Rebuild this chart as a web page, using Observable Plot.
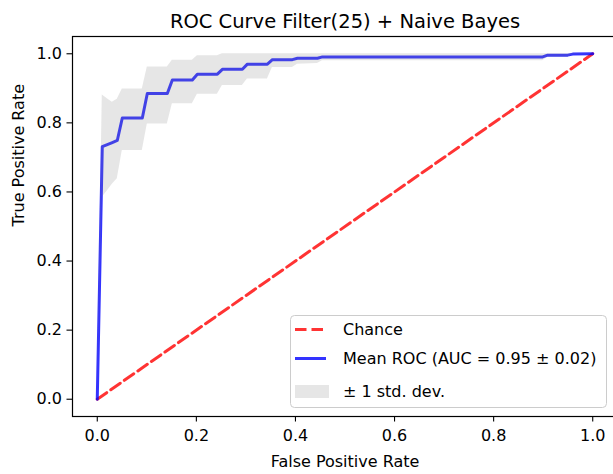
<!DOCTYPE html>
<html>
<head>
<meta charset="utf-8">
<script src="https://cdn.jsdelivr.net/npm/d3@7"></script>
<script src="https://cdn.jsdelivr.net/npm/@observablehq/plot@0.6"></script>
<style>
  html, body { margin: 0; padding: 0; background: #fff; overflow: hidden; }
  #chart { position: relative; width: 613px; height: 474px; overflow: hidden; }
  #chart svg { overflow: hidden; }
</style>
</head>
<body>
<div id="chart"></div>
<script>
// ---- data ----
const titleText = "ROC Curve Filter(25) + Naive Bayes";
const xLabel = "False Positive Rate";
const yLabel = "True Positive Rate";
const xTicks = [0, 0.2, 0.4, 0.6, 0.8, 1.0];
const yTicks = [0, 0.2, 0.4, 0.6, 0.8, 1.0];

const fpr      = [0, 0.0101, 0.0202, 0.0303, 0.0404, 0.0505, 0.0909, 0.1010, 0.1414, 0.1515, 0.1919, 0.2020, 0.2424, 0.2525, 0.2929, 0.3030, 0.3434, 0.3535, 0.3939, 0.4040, 0.4444, 0.4545, 0.8990, 0.9091, 0.9495, 0.9596, 1.0];
const tprMean  = [0, 0.731, 0.737, 0.743, 0.749, 0.814, 0.814, 0.885, 0.885, 0.924, 0.924, 0.941, 0.941, 0.955, 0.955, 0.970, 0.970, 0.983, 0.983, 0.987, 0.987, 0.991, 0.991, 0.996, 0.996, 0.999, 1.0];
const tprUpper = [0, 0.881, 0.870, 0.860, 0.868, 0.898, 0.898, 0.962, 0.962, 0.981, 0.981, 0.994, 0.994, 1.0, 1.0, 1.0, 1.0, 1.0, 1.0, 1.0, 1.0, 1.0, 1.0, 1.0, 1.0, 1.0, 1.0];
const tprLower = [0, 0.585, 0.603, 0.622, 0.638, 0.720, 0.720, 0.797, 0.797, 0.855, 0.855, 0.883, 0.883, 0.908, 0.908, 0.927, 0.927, 0.960, 0.960, 0.970, 0.972, 0.980, 0.980, 0.990, 0.990, 0.998, 1.0];

const chanceX = [0, 1];
const chanceY = [0, 1];

const legendLabels = ["Chance", "Mean ROC (AUC = 0.95 \u00b1 0.02)", "\u00b1 1 std. dev."];

// ---- tables built from the arrays ----
const meanData = fpr.map((x, i) => ({x, y: tprMean[i], lo: tprLower[i], hi: tprUpper[i]}));
const chanceData = chanceX.map((x, i) => ({x, y: chanceY[i]}));

const RED = "red", BLUE = "blue", GREY = "gray";
const W = 613, H = 474;

const plot = Plot.plot({
  width: W,
  height: H,
  marginLeft: 72,
  marginRight: -4,
  marginTop: 36,
  marginBottom: 58,
  style: {fontFamily: "'DejaVu Sans', sans-serif", fontSize: "16px", color: "#000", background: "#fff"},
  x: {domain: [-0.05, 1.05]},
  y: {domain: [-0.05, 1.05]},
  marks: [
    Plot.line(chanceData, {x: "x", y: "y", stroke: RED, strokeOpacity: 0.8, strokeWidth: 3, strokeDasharray: "11.5,5"}),
    Plot.line(meanData, {x: "x", y: "y", stroke: BLUE, strokeOpacity: 0.8, strokeWidth: 3, strokeLinejoin: "round"}),
    Plot.areaY(meanData, {x: "x", y1: "lo", y2: "hi", fill: GREY, fillOpacity: 0.2}),
    Plot.frame({stroke: "#000", strokeWidth: 1.2}),
    Plot.axisX({ticks: xTicks, tickFormat: d3.format(".1f"), tickSize: 5.5, tickPadding: 8, label: null, strokeWidth: 1.1}),
    Plot.axisY({ticks: yTicks, tickFormat: d3.format(".1f"), tickSize: 5.5, tickPadding: 5, label: null, strokeWidth: 1.1}),
    Plot.text([titleText], {frameAnchor: "top", lineAnchor: "bottom", dy: -9, fontSize: 19.5, fill: "#000"}),
    Plot.text([xLabel], {frameAnchor: "bottom", lineAnchor: "bottom", dy: 50, fontSize: 16, fill: "#000"}),
    Plot.text([yLabel], {frameAnchor: "left", lineAnchor: "bottom", rotate: -90, dx: -49, fontSize: 16, fill: "#000"})
  ]
});
document.getElementById("chart").appendChild(plot);

// ---- legend (matplotlib style, lower right) ----
const svg = d3.select(plot);
const lg = svg.append("g").attr("font-family", "'DejaVu Sans', sans-serif").attr("font-size", 16).attr("text-anchor", "start");
const box = {x: 290.5, y: 315.5, w: 316, h: 92};
lg.append("rect").attr("x", box.x).attr("y", box.y).attr("width", box.w).attr("height", box.h)
  .attr("rx", 4).attr("fill", "#fff").attr("fill-opacity", 0.8).attr("stroke", "#cccccc").attr("stroke-width", 1);
const rowY = [329.5, 358.5, 391.5];
const hx0 = 295, hx1 = 326, tx = 343;
lg.append("line").attr("x1", hx0).attr("x2", hx1).attr("y1", rowY[0]).attr("y2", rowY[0])
  .attr("stroke", RED).attr("stroke-opacity", 0.8).attr("stroke-width", 3).attr("stroke-dasharray", "11.5,5");
lg.append("line").attr("x1", hx0).attr("x2", hx1).attr("y1", rowY[1]).attr("y2", rowY[1])
  .attr("stroke", BLUE).attr("stroke-opacity", 0.8).attr("stroke-width", 3);
lg.append("rect").attr("x", hx0).attr("y", rowY[2] - 6.5).attr("width", hx1 - hx0 + 3).attr("height", 13)
  .attr("fill", GREY).attr("fill-opacity", 0.2);
legendLabels.forEach((t, i) => {
  lg.append("text").attr("x", tx).attr("y", rowY[i]).attr("dy", "0.35em").attr("fill", "#000")
    .attr("text-anchor", "start").text(t);
});
</script>
</body>
</html>
